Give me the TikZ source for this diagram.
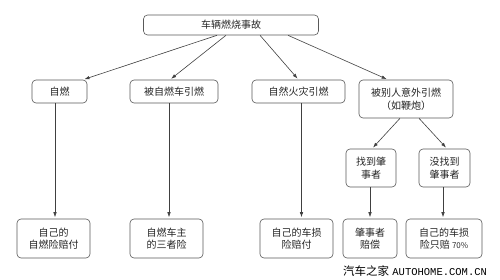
\documentclass[tikz,border=0pt]{standalone}
\usepackage{fontspec}
\newfontfamily\cjk{Noto Sans CJK SC}
\setmonofont{Liberation Mono}
\usetikzlibrary{arrows.meta}

\begin{document}
\begin{tikzpicture}[x=1pt,y=-1pt,
  box/.style={draw=black!65, line width=0.6pt, rounded corners=4pt, fill=white, align=center, inner sep=0pt, text=black!85, font=\cjk\fontsize{10}{12.5}\selectfont},
  conn/.style={draw=black!75, line width=0.6pt, shorten >=1.5pt, -{Latex[length=5pt,width=3.5pt]}}]
\useasboundingbox (0,0) rectangle (500,280);
% top
\node[box, minimum width=175pt, minimum height=20pt] (acc) at (231,25) {车辆燃烧事故};
% causes
\node[box, minimum width=55pt, minimum height=23pt] (zr) at (59.5,91.5) {自燃};
\node[box, minimum width=88pt, minimum height=23pt] (bzr) at (174,91.5) {被自燃车引燃};
\node[box, minimum width=93pt, minimum height=23pt] (hz) at (298.5,91.5) {自然火灾引燃};
\node[box, minimum width=94pt, minimum height=38pt] (yw) at (406,99) {被别人意外引燃\\（如鞭炮）};
\node[box, minimum width=50pt, minimum height=38pt] (zd) at (371,168) {找到肇\\事者};
\node[box, minimum width=51pt, minimum height=38pt] (mzd) at (444.5,168) {没找到\\肇事者};
% who pays
\node[box, minimum width=73pt, minimum height=39pt] (p1) at (53.5,238.5) {自己的\\自燃险赔付};
\node[box, minimum width=73pt, minimum height=39pt] (p2) at (166.5,238.5) {自燃车主\\的三者险};
\node[box, minimum width=73pt, minimum height=39pt] (p3) at (296.5,238.5) {自己的车损\\险赔付};
\node[box, minimum width=54pt, minimum height=39pt] (p4) at (370,238.5) {肇事者\\赔偿};
\node[box, minimum width=76pt, minimum height=39pt] (p5) at (444,238.5) {自己的车损\\险只赔 {\fontsize{8}{10}\selectfont 70\%}};
% connectors
\draw[conn] ([xshift=-14pt]acc.south) -- ([xshift=23.5pt]zr.north);
\draw[conn] ([xshift=-5pt]acc.south) -- ([xshift=-4pt]bzr.north);
\draw[conn] ([xshift=29pt]acc.south) -- (hz.north);
\draw[conn] ([xshift=57pt]acc.south) -- ([xshift=-18pt]yw.north);
\draw[conn] ([xshift=-4.5pt]zr.south) -- ([xshift=-4.5pt]zr.south |- p1.north);
\draw[conn] ([xshift=-5pt]bzr.south) -- ([xshift=-5pt]bzr.south |- p2.north);
\draw[conn] ([xshift=3pt]hz.south) -- ([xshift=3pt]hz.south |- p3.north);
\draw[conn] ([xshift=-6pt]yw.south) -- ([xshift=1pt]zd.north);
\draw[conn] ([xshift=13pt]yw.south) -- ([xshift=2.5pt]mzd.north);
\draw[conn] ([xshift=-1pt]zd.south) -- ([xshift=-1pt]zd.south |- p4.north);
\draw[conn] ([xshift=-1.5pt]mzd.south) -- ([xshift=-1.5pt]mzd.south |- p5.north);
% watermark
\node[inner sep=0pt] (mark) at (415,271) {{\cjk\fontsize{11.5}{12}\selectfont 汽车之家}\ {\ttfamily\fontsize{10.5}{11}\selectfont AUTOHOME.COM.CN}};
\end{tikzpicture}
\end{document}
